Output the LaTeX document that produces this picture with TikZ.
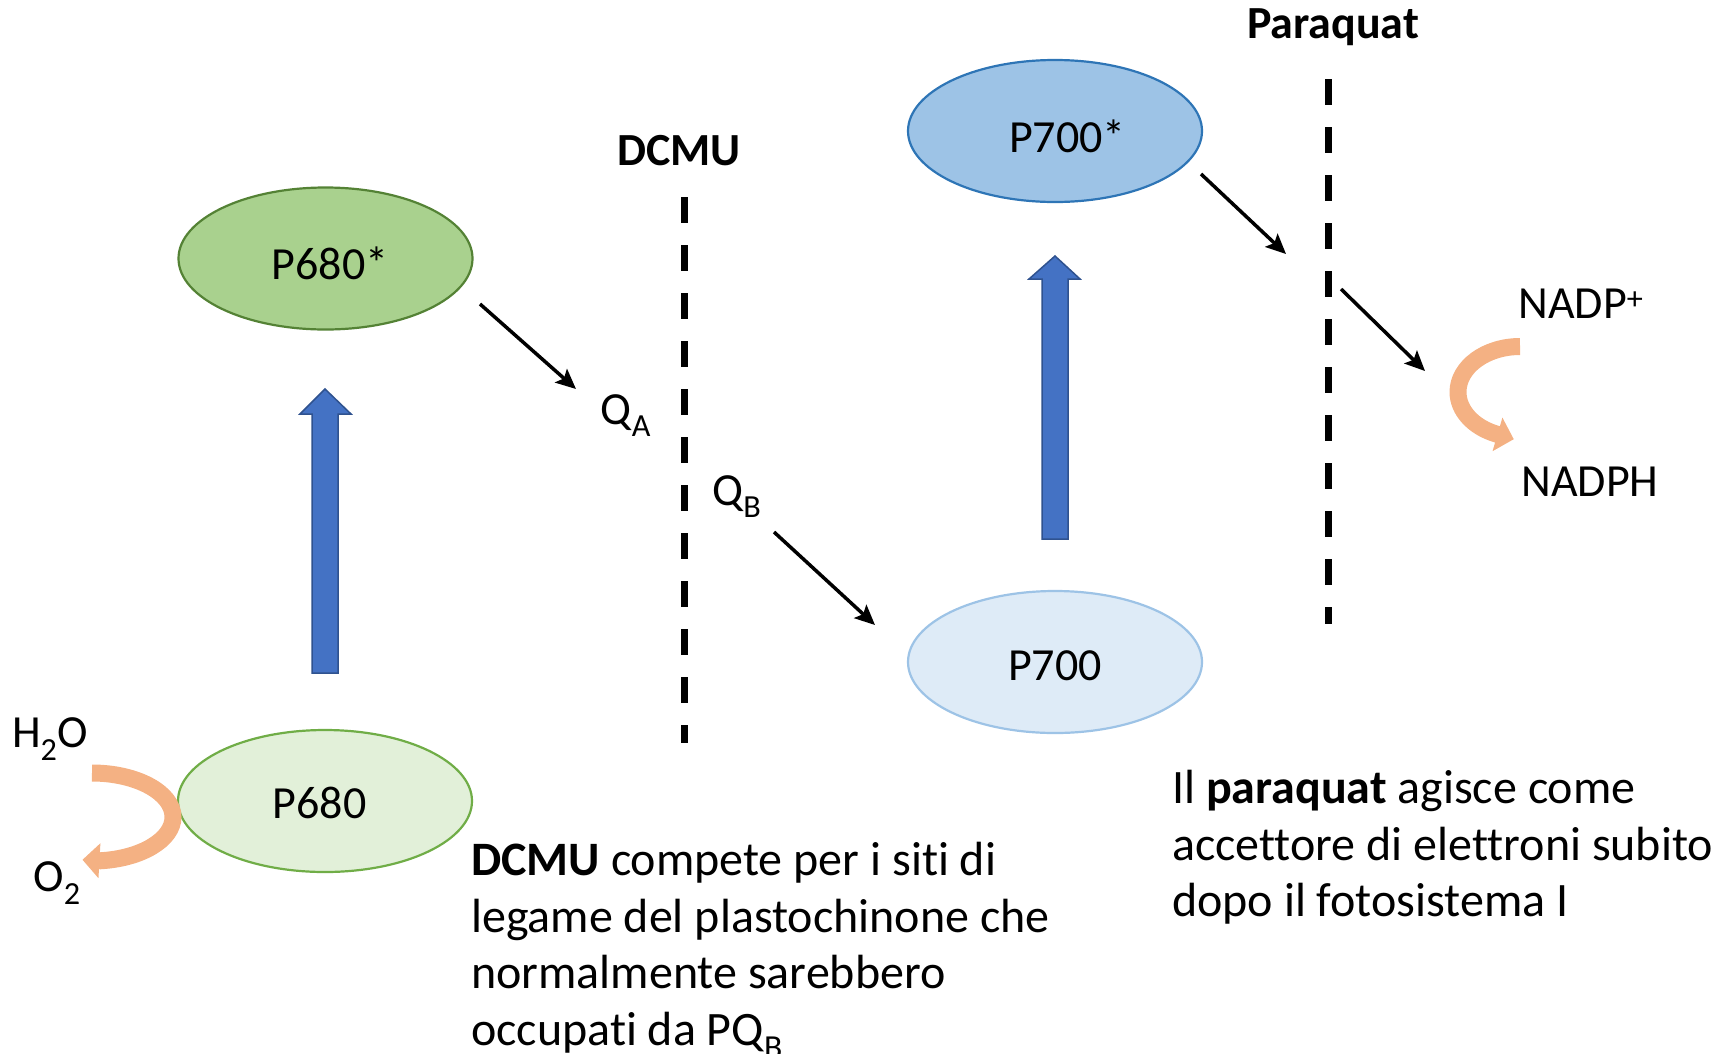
\documentclass[tikz,border=0pt]{standalone}
\usepackage{fontspec}
\setmainfont{Carlito}[Ligatures=NoCommon]
\usetikzlibrary{shapes.geometric,arrows.meta}

\definecolor{psiifill}{HTML}{A9D18E}
\definecolor{psiiline}{HTML}{548235}
\definecolor{psiilight}{HTML}{E2F0D9}
\definecolor{psiilightline}{HTML}{70AD47}
\definecolor{psifill}{HTML}{9DC3E6}
\definecolor{psiline}{HTML}{2E75B6}
\definecolor{psilight}{HTML}{DEEBF7}
\definecolor{psilightline}{HTML}{9DC3E6}
\definecolor{lightblue}{HTML}{4472C4}
\definecolor{lightline}{HTML}{2F528F}
\definecolor{redoxorange}{HTML}{F4B183}

\tikzset{
  psnode/.style={ellipse, minimum width=294pt, minimum height=142pt, inner sep=0pt,
    line width=2.2pt},
  psname/.style={font=\fontsize{46}{55}\selectfont, inner sep=0pt},
  tag/.style={font=\fontsize{46}{55}\selectfont, inner sep=0pt},
  title/.style={font=\fontsize{46}{55}\selectfont\bfseries, inner sep=0pt},
  note/.style={font=\fontsize{48}{56.5}\selectfont, align=left, inner sep=0pt, anchor=north west},
  eflow/.style={line width=3.5pt, -{Stealth[length=20pt,width=18pt,inset=4pt]}},
  barrier/.style={line width=7pt, dash pattern=on 26pt off 22pt},
  lightup/.style={fill=lightblue, draw=lightline, line width=1.5pt},
  redox/.style={draw=redoxorange, line width=17pt, -{Triangle[length=17pt,width=34pt]}}
}

\begin{document}
\begin{tikzpicture}[x=1pt,y=-1pt]
  \useasboundingbox (0,0) rectangle (1731,1053);

  % Photosystem II
  \node[psnode, fill=psiifill, draw=psiiline,
    label={[psname, xshift=4.5pt, yshift=-5pt]center:P680*}] (p680s) at (325.5,258.5) {};
  \node[psnode, fill=psiilight, draw=psiilightline,
    label={[psname, xshift=-5.5pt, yshift=-2pt]center:P680}] (p680) at (325,801) {};

  % Photosystem I
  \node[psnode, fill=psifill, draw=psiline,
    label={[psname, xshift=12.5pt, yshift=-5pt]center:P700*}] (p700s) at (1055,131) {};
  \node[psnode, fill=psilight, draw=psilightline,
    label={[psname, yshift=-4pt]center:P700}] (p700) at (1055,662) {};

  % light excitation
  \draw[lightup] (312,673) -- (312,414) -- (300,414) -- (325,389) -- (351,414)
    -- (338,414) -- (338,673) -- cycle;
  \draw[lightup] (1042,539) -- (1042,279) -- (1029,279) -- (1055,256) -- (1080,279)
    -- (1068,279) -- (1068,539) -- cycle;

  % quinones
  \node[tag] (qa) at (626,416) {Q\textsubscript{A}};
  \node[tag] (qb) at (737,497) {Q\textsubscript{B}};

  % inhibitors
  \node[title] (dcmu) at (679,151) {DCMU};
  \coordinate (dcmutop) at (684,197);
  \coordinate (dcmubot) at (684,743);
  \draw[barrier] (dcmutop) -- (dcmubot);

  \node[title] (paraquat) at (1333,27) {Paraquat};
  \coordinate (pqtop) at (1328,79);
  \coordinate (pqbot) at (1328,624);
  \draw[barrier] (pqtop) -- (pqbot);

  % electron flow
  \coordinate (e1s) at (480,304);
  \coordinate (e1e) at (576,389);
  \coordinate (e2s) at (774,532);
  \coordinate (e2e) at (875,625);
  \coordinate (e3s) at (1201,174);
  \coordinate (e3e) at (1286,254);
  \coordinate (e4s) at (1341,289);
  \coordinate (e4e) at (1425,371);
  \draw[eflow] (e1s) -- (e1e);
  \draw[eflow] (e2s) -- (e2e);
  \draw[eflow] (e3s) -- (e3e);
  \draw[eflow] (e4s) -- (e4e);

  % water splitting
  \node[tag] (h2o) at (50,739) {H\textsubscript{2}O};
  \node[tag] (o2) at (57,883) {O\textsubscript{2}};
  \draw[redox] (92,773) arc[start angle=-90, end angle=84, x radius=81, y radius=44]
    -- ++(-18,-1);

  % NADP+ reduction
  \node[tag] (nadp) at (1581,304) {NADP\textsuperscript{+}};
  \node[tag] (nadph) at (1590,482) {NADPH};
  \draw[redox] (1520,346.5) arc[start angle=270, end angle=112, x radius=62, y radius=45.5]
    -- ++(17,5);

  % notes
  \node[note] (dcmunote) at (471,842) {\textbf{DCMU} compete per i siti di\\
    legame del plastochinone che\\ normalmente sarebbero\\ occupati da PQ\textsubscript{B}};
  \node[note] (pqnote) at (1172,770) {Il \textbf{paraquat} agisce come\\
    accettore di elettroni subito\\ dopo il fotosistema I};
\end{tikzpicture}
\end{document}
